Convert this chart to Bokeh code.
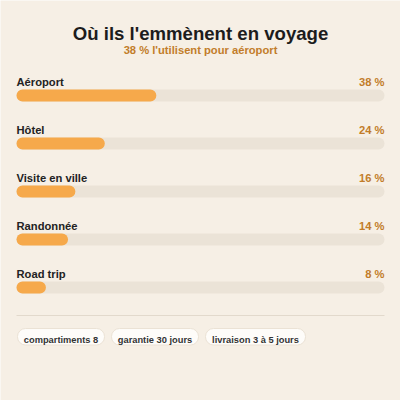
from bokeh.plotting import figure
from bokeh.models import Range1d, ColumnDataSource
from bokeh.core.properties import value
from bokeh.embed import file_html
from bokeh.resources import INLINE

# ---- data ----
title = "Où ils l'emmènent en voyage"
subtitle = "38 % l'utilisent pour aéroport"
categories = ["Aéroport", "Hôtel", "Visite en ville", "Randonnée", "Road trip"]
shares = [38, 24, 16, 14, 8]
chips = ["compartiments 8", "garantie 30 jours", "livraison 3 à 5 jours"]

# ---- layout / style ----
W = H = 400
BG = "#f6efe5"
TRACK = "#ebe3d7"
FILL = "#f6a94b"
ACCENT = "#c27d2a"
DARK = "#1c1c1c"
FONT = "Liberation Sans"
ROW0 = 95      # bar centre of first row (px from top)
ROW_STEP = 48
BAR_H = 12
LEFT, RIGHT = 16, 384
chip_widths = [87, 87, 100]
chip_gap = 7

px_per_unit = (RIGHT - LEFT) / 100.0
x_start = -LEFT / px_per_unit
x_end = 100 + (W - RIGHT) / px_per_unit

p = figure(width=W, height=H, output_backend="svg", toolbar_location=None,
           x_range=Range1d(x_start, x_end), y_range=Range1d(H, 0),
           min_border=0, outline_line_color=None,
           background_fill_color=BG, border_fill_color=BG)
p.axis.visible = False
p.grid.visible = False
p.extra_x_ranges = {"px": Range1d(0, W)}

ys = [ROW0 + ROW_STEP * i for i in range(len(categories))]
src = ColumnDataSource(dict(cat=categories, val=shares, y=ys,
                            ly=[y - 13.5 for y in ys],
                            lab=[f"{v} %" for v in shares],
                            full=[100] * len(shares), zero=[0] * len(shares)))

p.hbar(y="y", left="zero", right="full", height=BAR_H, source=src,
       fill_color=TRACK, line_color=None, border_radius=BAR_H // 2)
p.hbar(y="y", left="zero", right="val", height=BAR_H, source=src,
       fill_color=FILL, line_color=None, border_radius=BAR_H // 2)

p.text(x=0, y="ly", text="cat", source=src, text_font=value(FONT),
       text_font_style="bold", text_font_size="11.2px", text_color="#222222",
       text_baseline="alphabetic", text_align="left")
p.text(x=100, y="ly", text="lab", source=src, text_font=value(FONT),
       text_font_style="bold", text_font_size="11.2px", text_color=ACCENT,
       text_baseline="alphabetic", text_align="right")

# title & subtitle
p.text(x=[W / 2], y=[32.5], text=[title], x_range_name="px", text_font=value(FONT),
       text_font_style="bold", text_font_size="18.6px", text_color=DARK,
       text_align="center", text_baseline="alphabetic")
p.text(x=[W / 2], y=[49.5], text=[subtitle], x_range_name="px", text_font=value(FONT),
       text_font_style="bold", text_font_size="11.2px", text_color=ACCENT,
       text_align="center", text_baseline="alphabetic")

# divider
p.segment(x0=[LEFT], x1=[RIGHT], y0=[315], y1=[315], x_range_name="px",
          line_color="#e2d9cc", line_width=1)

# chips
lefts, rights, centers = [], [], []
x = LEFT + 1
for w in chip_widths:
    lefts.append(x)
    rights.append(x + w)
    centers.append(x + w / 2)
    x += w + chip_gap
p.quad(left=lefts, right=rights, top=[328] * 3, bottom=[344.5] * 3, x_range_name="px",
       fill_color="#fefcf9", line_color="#ebe2d5", line_width=1, border_radius=8)
p.text(x=centers, y=[339.5] * 3, text=chips, x_range_name="px", text_font=value(FONT),
       text_font_style="bold", text_font_size="9.3px", text_color="#333333",
       text_align="center", text_baseline="alphabetic")

open("out.html", "w").write(file_html(p, INLINE))
